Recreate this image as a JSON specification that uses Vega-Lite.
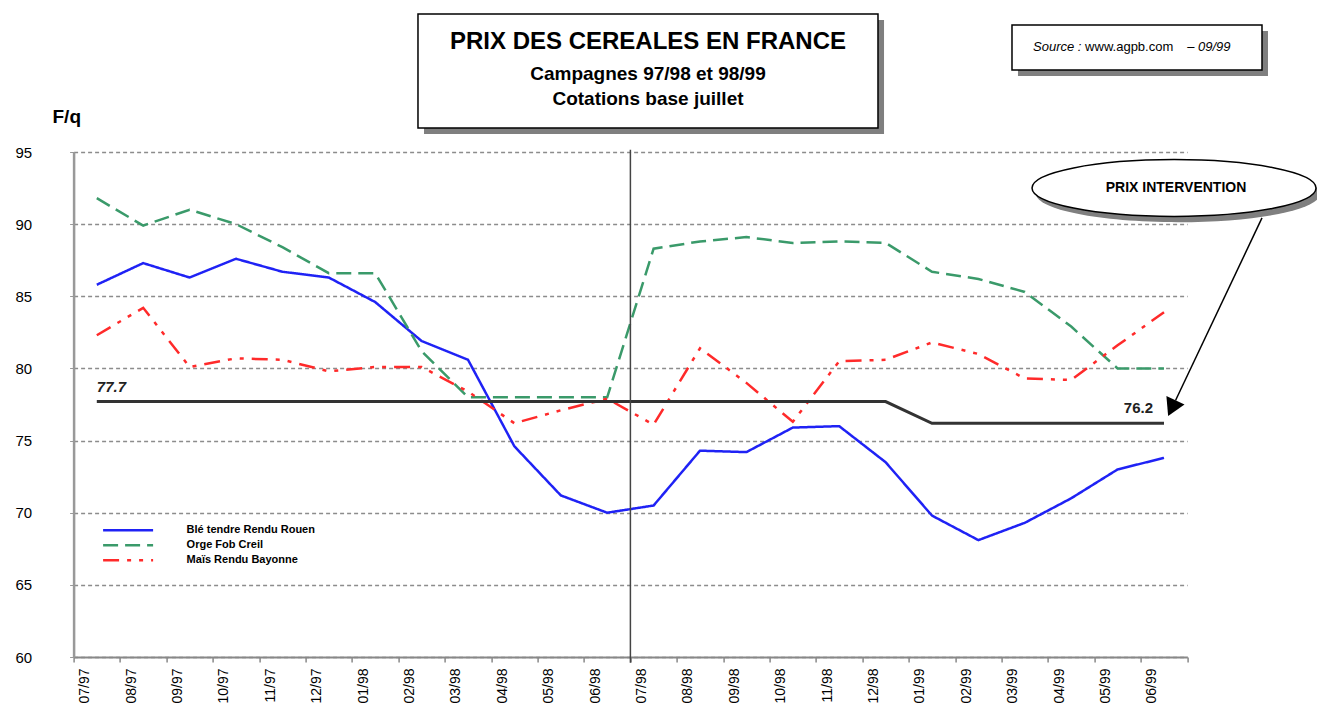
{
  "$schema": "https://vega.github.io/schema/vega-lite/v6.json",
  "width": 1113.6,
  "height": 505,
  "autosize": {"type": "none"},
  "padding": {"left": 73.6, "top": 152, "right": 129.8, "bottom": 53},
  "background": "white",
  "config": {"view": {"stroke": null}, "font": "Liberation Sans"},
  "datasets": {
    "series": [
      {"mois": "07/97", "t": 0, "serie": "Blé tendre Rendu  Rouen", "prix": 85.8},
      {"mois": "08/97", "t": 1, "serie": "Blé tendre Rendu  Rouen", "prix": 87.3},
      {"mois": "09/97", "t": 2, "serie": "Blé tendre Rendu  Rouen", "prix": 86.3},
      {"mois": "10/97", "t": 3, "serie": "Blé tendre Rendu  Rouen", "prix": 87.6},
      {"mois": "11/97", "t": 4, "serie": "Blé tendre Rendu  Rouen", "prix": 86.7},
      {"mois": "12/97", "t": 5, "serie": "Blé tendre Rendu  Rouen", "prix": 86.3},
      {"mois": "01/98", "t": 6, "serie": "Blé tendre Rendu  Rouen", "prix": 84.6},
      {"mois": "02/98", "t": 7, "serie": "Blé tendre Rendu  Rouen", "prix": 81.9},
      {"mois": "03/98", "t": 8, "serie": "Blé tendre Rendu  Rouen", "prix": 80.6},
      {"mois": "04/98", "t": 9, "serie": "Blé tendre Rendu  Rouen", "prix": 74.6},
      {"mois": "05/98", "t": 10, "serie": "Blé tendre Rendu  Rouen", "prix": 71.2},
      {"mois": "06/98", "t": 11, "serie": "Blé tendre Rendu  Rouen", "prix": 70.0},
      {"mois": "07/98", "t": 12, "serie": "Blé tendre Rendu  Rouen", "prix": 70.5},
      {"mois": "08/98", "t": 13, "serie": "Blé tendre Rendu  Rouen", "prix": 74.3},
      {"mois": "09/98", "t": 14, "serie": "Blé tendre Rendu  Rouen", "prix": 74.2},
      {"mois": "10/98", "t": 15, "serie": "Blé tendre Rendu  Rouen", "prix": 75.9},
      {"mois": "11/98", "t": 16, "serie": "Blé tendre Rendu  Rouen", "prix": 76.0},
      {"mois": "12/98", "t": 17, "serie": "Blé tendre Rendu  Rouen", "prix": 73.5},
      {"mois": "01/99", "t": 18, "serie": "Blé tendre Rendu  Rouen", "prix": 69.8},
      {"mois": "02/99", "t": 19, "serie": "Blé tendre Rendu  Rouen", "prix": 68.1},
      {"mois": "03/99", "t": 20, "serie": "Blé tendre Rendu  Rouen", "prix": 69.3},
      {"mois": "04/99", "t": 21, "serie": "Blé tendre Rendu  Rouen", "prix": 71.0},
      {"mois": "05/99", "t": 22, "serie": "Blé tendre Rendu  Rouen", "prix": 73.0},
      {"mois": "06/99", "t": 23, "serie": "Blé tendre Rendu  Rouen", "prix": 73.8},
      {"mois": "07/97", "t": 0, "serie": "Orge Fob Creil", "prix": 91.8},
      {"mois": "08/97", "t": 1, "serie": "Orge Fob Creil", "prix": 89.9},
      {"mois": "09/97", "t": 2, "serie": "Orge Fob Creil", "prix": 91.0},
      {"mois": "10/97", "t": 3, "serie": "Orge Fob Creil", "prix": 90.0},
      {"mois": "11/97", "t": 4, "serie": "Orge Fob Creil", "prix": 88.4},
      {"mois": "12/97", "t": 5, "serie": "Orge Fob Creil", "prix": 86.6},
      {"mois": "01/98", "t": 6, "serie": "Orge Fob Creil", "prix": 86.6},
      {"mois": "02/98", "t": 7, "serie": "Orge Fob Creil", "prix": 81.2},
      {"mois": "03/98", "t": 8, "serie": "Orge Fob Creil", "prix": 78.0},
      {"mois": "04/98", "t": 9, "serie": "Orge Fob Creil", "prix": 78.0},
      {"mois": "05/98", "t": 10, "serie": "Orge Fob Creil", "prix": 78.0},
      {"mois": "06/98", "t": 11, "serie": "Orge Fob Creil", "prix": 78.0},
      {"mois": "07/98", "t": 12, "serie": "Orge Fob Creil", "prix": 88.3},
      {"mois": "08/98", "t": 13, "serie": "Orge Fob Creil", "prix": 88.8},
      {"mois": "09/98", "t": 14, "serie": "Orge Fob Creil", "prix": 89.1},
      {"mois": "10/98", "t": 15, "serie": "Orge Fob Creil", "prix": 88.7},
      {"mois": "11/98", "t": 16, "serie": "Orge Fob Creil", "prix": 88.8},
      {"mois": "12/98", "t": 17, "serie": "Orge Fob Creil", "prix": 88.7},
      {"mois": "01/99", "t": 18, "serie": "Orge Fob Creil", "prix": 86.7},
      {"mois": "02/99", "t": 19, "serie": "Orge Fob Creil", "prix": 86.2},
      {"mois": "03/99", "t": 20, "serie": "Orge Fob Creil", "prix": 85.3},
      {"mois": "04/99", "t": 21, "serie": "Orge Fob Creil", "prix": 82.9},
      {"mois": "05/99", "t": 22, "serie": "Orge Fob Creil", "prix": 80.0},
      {"mois": "06/99", "t": 23, "serie": "Orge Fob Creil", "prix": 80.0},
      {"mois": "07/97", "t": 0, "serie": "Maïs Rendu Bayonne", "prix": 82.3},
      {"mois": "08/97", "t": 1, "serie": "Maïs Rendu Bayonne", "prix": 84.2},
      {"mois": "09/97", "t": 2, "serie": "Maïs Rendu Bayonne", "prix": 80.1},
      {"mois": "10/97", "t": 3, "serie": "Maïs Rendu Bayonne", "prix": 80.7},
      {"mois": "11/97", "t": 4, "serie": "Maïs Rendu Bayonne", "prix": 80.6},
      {"mois": "12/97", "t": 5, "serie": "Maïs Rendu Bayonne", "prix": 79.8},
      {"mois": "01/98", "t": 6, "serie": "Maïs Rendu Bayonne", "prix": 80.1},
      {"mois": "02/98", "t": 7, "serie": "Maïs Rendu Bayonne", "prix": 80.1},
      {"mois": "03/98", "t": 8, "serie": "Maïs Rendu Bayonne", "prix": 78.4},
      {"mois": "04/98", "t": 9, "serie": "Maïs Rendu Bayonne", "prix": 76.2},
      {"mois": "05/98", "t": 10, "serie": "Maïs Rendu Bayonne", "prix": 77.1},
      {"mois": "06/98", "t": 11, "serie": "Maïs Rendu Bayonne", "prix": 77.9},
      {"mois": "07/98", "t": 12, "serie": "Maïs Rendu Bayonne", "prix": 76.1},
      {"mois": "08/98", "t": 13, "serie": "Maïs Rendu Bayonne", "prix": 81.4},
      {"mois": "09/98", "t": 14, "serie": "Maïs Rendu Bayonne", "prix": 79.0},
      {"mois": "10/98", "t": 15, "serie": "Maïs Rendu Bayonne", "prix": 76.3},
      {"mois": "11/98", "t": 16, "serie": "Maïs Rendu Bayonne", "prix": 80.5},
      {"mois": "12/98", "t": 17, "serie": "Maïs Rendu Bayonne", "prix": 80.6},
      {"mois": "01/99", "t": 18, "serie": "Maïs Rendu Bayonne", "prix": 81.8},
      {"mois": "02/99", "t": 19, "serie": "Maïs Rendu Bayonne", "prix": 81.0},
      {"mois": "03/99", "t": 20, "serie": "Maïs Rendu Bayonne", "prix": 79.3},
      {"mois": "04/99", "t": 21, "serie": "Maïs Rendu Bayonne", "prix": 79.2},
      {"mois": "05/99", "t": 22, "serie": "Maïs Rendu Bayonne", "prix": 81.6},
      {"mois": "06/99", "t": 23, "serie": "Maïs Rendu Bayonne", "prix": 83.9}
    ],
    "intervention": [
      {"mois": "07/97", "t": 0, "prix": 77.7},
      {"mois": "08/97", "t": 1, "prix": 77.7},
      {"mois": "09/97", "t": 2, "prix": 77.7},
      {"mois": "10/97", "t": 3, "prix": 77.7},
      {"mois": "11/97", "t": 4, "prix": 77.7},
      {"mois": "12/97", "t": 5, "prix": 77.7},
      {"mois": "01/98", "t": 6, "prix": 77.7},
      {"mois": "02/98", "t": 7, "prix": 77.7},
      {"mois": "03/98", "t": 8, "prix": 77.7},
      {"mois": "04/98", "t": 9, "prix": 77.7},
      {"mois": "05/98", "t": 10, "prix": 77.7},
      {"mois": "06/98", "t": 11, "prix": 77.7},
      {"mois": "07/98", "t": 12, "prix": 77.7},
      {"mois": "08/98", "t": 13, "prix": 77.7},
      {"mois": "09/98", "t": 14, "prix": 77.7},
      {"mois": "10/98", "t": 15, "prix": 77.7},
      {"mois": "11/98", "t": 16, "prix": 77.7},
      {"mois": "12/98", "t": 17, "prix": 77.7},
      {"mois": "01/99", "t": 18, "prix": 76.2},
      {"mois": "02/99", "t": 19, "prix": 76.2},
      {"mois": "03/99", "t": 20, "prix": 76.2},
      {"mois": "04/99", "t": 21, "prix": 76.2},
      {"mois": "05/99", "t": 22, "prix": 76.2},
      {"mois": "06/99", "t": 23, "prix": 76.2}
    ]
  },
  "layer": [
    {
      "data": {"name": "series"},
      "mark": {"type": "line", "strokeWidth": 2.5},
      "encoding": {
        "x": {
          "field": "t", "type": "quantitative",
          "scale": {"domain": [-0.5, 23.5], "nice": false, "zero": false},
          "axis": {
            "values": [-0.5, 0.5, 1.5, 2.5, 3.5, 4.5, 5.5, 6.5, 7.5, 8.5, 9.5, 10.5, 11.5, 12.5, 13.5, 14.5, 15.5, 16.5, 17.5, 18.5, 19.5, 20.5, 21.5, 22.5, 23.5],
            "labelExpr": "datum.value > 23 ? '' : ['07/97','08/97','09/97','10/97','11/97','12/97','01/98','02/98','03/98','04/98','05/98','06/98','07/98','08/98','09/98','10/98','11/98','12/98','01/99','02/99','03/99','04/99','05/99','06/99'][round(datum.value + 0.5)]",
            "labelAngle": -90, "labelFontSize": 14, "labelColor": "black",
            "labelOffset": 11, "labelPadding": 6, "labelOverlap": false, "labelBound": false, "labelFlush": false,
            "tickSize": 5, "tickColor": "#888", "tickWidth": 1.5,
            "domainColor": "#888", "domainWidth": 2, "grid": false, "title": null
          }
        },
        "y": {
          "field": "prix", "type": "quantitative",
          "scale": {"domain": [60, 95], "nice": false, "zero": false},
          "axis": {
            "values": [60, 65, 70, 75, 80, 85, 90, 95],
            "grid": true, "gridColor": "#8c8c8c", "gridDash": [4, 3], "gridWidth": 1.6,
            "domainColor": "#999", "domainWidth": 2.5,
            "tickSize": 4, "tickColor": "#999",
            "labelFontSize": 15, "labelColor": "black", "labelPadding": 38,
            "title": "F/q", "titleAngle": 0, "titleX": -21.6, "titleY": -36,
            "titleAlign": "left", "titleBaseline": "middle", "titleFontSize": 19,
            "titleFontWeight": "bold", "titleColor": "black"
          }
        },
        "color": {
          "field": "serie", "type": "nominal",
          "scale": {"domain": ["Blé tendre Rendu  Rouen", "Orge Fob Creil", "Maïs Rendu Bayonne"], "range": ["#1f22f5", "#3a9a6a", "#ff2a2a"]},
          "legend": {
            "title": null, "orient": "none", "legendX": 28, "legendY": 371.8, "direction": "vertical", "columns": 1,
            "symbolType": "stroke", "symbolSize": 2500, "symbolStrokeWidth": 2.5, "clipHeight": 13, "rowPadding": 2,
            "labelFontSize": 11, "labelFontWeight": "bold", "labelColor": "black", "labelOffset": 32, "padding": 0, "labelLimit": 300
          }
        },
        "strokeDash": {
          "field": "serie", "type": "nominal",
          "scale": {"domain": ["Blé tendre Rendu  Rouen", "Orge Fob Creil", "Maïs Rendu Bayonne"], "range": [[1, 0], [15, 7], [16, 8, 4, 8, 4, 8]]},
          "legend": {
            "title": null, "orient": "none", "legendX": 28, "legendY": 371.8, "direction": "vertical", "columns": 1,
            "symbolType": "stroke", "symbolSize": 2500, "symbolStrokeWidth": 2.5, "clipHeight": 13, "rowPadding": 2,
            "labelFontSize": 11, "labelFontWeight": "bold", "labelColor": "black", "labelOffset": 32, "padding": 0, "labelLimit": 300
          }
        }
      }
    },
    {
      "data": {"name": "intervention"},
      "mark": {"type": "line", "color": "#333333", "strokeWidth": 3},
      "encoding": {
        "x": {"field": "t", "type": "quantitative"},
        "y": {"field": "prix", "type": "quantitative"}
      }
    },
    {
      "data": {"name": "intervention"},
      "transform": [{"filter": "datum.t == 0"}],
      "mark": {"type": "text", "align": "left", "baseline": "middle", "dy": -15, "fontSize": 15, "fontWeight": "bold", "fontStyle": "italic", "color": "#222222"},
      "encoding": {
        "x": {"field": "t", "type": "quantitative"},
        "y": {"field": "prix", "type": "quantitative"},
        "text": {"field": "prix", "type": "quantitative", "format": ".1f"}
      }
    },
    {
      "data": {"name": "intervention"},
      "transform": [{"filter": "datum.t == 23"}],
      "mark": {"type": "text", "align": "right", "baseline": "middle", "dx": -11, "dy": -15, "fontSize": 15, "fontWeight": "bold", "color": "#222222"},
      "encoding": {
        "x": {"field": "t", "type": "quantitative"},
        "y": {"field": "prix", "type": "quantitative"},
        "text": {"field": "prix", "type": "quantitative", "format": ".1f"}
      }
    },
    {
      "data": {"values": [{}]},
      "mark": {"type": "rule", "color": "#444444", "strokeWidth": 1.5},
      "encoding": {"x": {"datum": 11.5}, "y": {"datum": 95.15}, "y2": {"datum": 59.6}}
    },
    {
      "data": {"values": [{}]},
      "mark": {"type": "rect", "fill": "#7f7f7f"},
      "encoding": {"x": {"datum": 7.052}, "x2": {"datum": 16.966}, "y": {"datum": 104.149}, "y2": {"datum": 96.248}}
    },
    {
      "data": {"values": [{}]},
      "mark": {"type": "rect", "fill": "white", "stroke": "black", "strokeWidth": 1.5},
      "encoding": {"x": {"datum": 6.922}, "x2": {"datum": 16.836}, "y": {"datum": 104.564}, "y2": {"datum": 96.663}}
    },
    {
      "data": {"values": [{}]},
      "mark": {"type": "text", "text": "PRIX DES CEREALES EN FRANCE", "fontSize": 24, "fontWeight": "bold", "align": "center", "baseline": "middle", "color": "black"},
      "encoding": {"x": {"datum": 11.879}, "y": {"datum": 102.624}}
    },
    {
      "data": {"values": [{}]},
      "mark": {"type": "text", "text": "Campagnes 97/98 et 98/99", "fontSize": 19, "fontWeight": "bold", "align": "center", "baseline": "middle", "color": "black"},
      "encoding": {"x": {"datum": 11.879}, "y": {"datum": 100.406}}
    },
    {
      "data": {"values": [{}]},
      "mark": {"type": "text", "text": "Cotations base juillet", "fontSize": 19, "fontWeight": "bold", "align": "center", "baseline": "middle", "color": "black"},
      "encoding": {"x": {"datum": 11.879}, "y": {"datum": 98.673}}
    },
    {
      "data": {"values": [{}]},
      "mark": {"type": "rect", "fill": "#7f7f7f"},
      "encoding": {"x": {"datum": 19.853}, "x2": {"datum": 25.241}, "y": {"datum": 103.386}, "y2": {"datum": 100.267}}
    },
    {
      "data": {"values": [{}]},
      "mark": {"type": "rect", "fill": "white", "stroke": "black", "strokeWidth": 1.5},
      "encoding": {"x": {"datum": 19.724}, "x2": {"datum": 25.112}, "y": {"datum": 103.802}, "y2": {"datum": 100.683}}
    },
    {
      "data": {"values": [{}]},
      "mark": {"type": "text", "text": "Source :", "fontSize": 13, "fontStyle": "italic", "align": "left", "baseline": "middle", "color": "black"},
      "encoding": {"x": {"datum": 20.177}, "y": {"datum": 102.277}}
    },
    {
      "data": {"values": [{}]},
      "mark": {"type": "text", "text": "www.agpb.com", "fontSize": 13, "align": "left", "baseline": "middle", "color": "black"},
      "encoding": {"x": {"datum": 21.3}, "y": {"datum": 102.277}}
    },
    {
      "data": {"values": [{}]},
      "mark": {"type": "text", "text": "– 09/99", "fontSize": 13, "fontStyle": "italic", "align": "left", "baseline": "middle", "color": "black"},
      "encoding": {"x": {"datum": 23.5}, "y": {"datum": 102.277}}
    },
    {
      "data": {"values": [{}]},
      "mark": {"type": "point", "shape": "M -1 0 A 1 0.2 0 1 1 1 0 A 1 0.2 0 1 1 -1 0 Z", "size": 80656, "filled": true, "fill": "#7f7f7f", "opacity": 1, "strokeWidth": 0},
      "encoding": {"x": {"datum": 23.302}, "y": {"datum": 92.1}}
    },
    {
      "data": {"values": [{}]},
      "mark": {"type": "point", "shape": "M -1 0 A 1 0.2 0 1 1 1 0 A 1 0.2 0 1 1 -1 0 Z", "size": 80656, "filled": false, "fill": "white", "fillOpacity": 1, "stroke": "black", "strokeWidth": 1.5, "opacity": 1},
      "encoding": {"x": {"datum": 23.216}, "y": {"datum": 92.505}}
    },
    {
      "data": {"values": [{}]},
      "mark": {"type": "text", "text": "PRIX INTERVENTION", "fontSize": 14, "fontWeight": "bold", "align": "center", "baseline": "middle", "color": "black"},
      "encoding": {"x": {"datum": 23.259}, "y": {"datum": 92.505}}
    },
    {
      "data": {"values": [{}]},
      "mark": {"type": "rule", "color": "black", "strokeWidth": 1.5},
      "encoding": {"x": {"datum": 25.112}, "y": {"datum": 90.43}, "x2": {"datum": 23.248}, "y2": {"datum": 77.78}}
    },
    {
      "data": {"values": [{}]},
      "mark": {"type": "point", "shape": "triangle-down", "size": 400, "angle": 25, "filled": true, "fill": "black", "opacity": 1, "strokeWidth": 0},
      "encoding": {"x": {"datum": 23.168}, "y": {"datum": 77.25}}
    }
  ]
}
